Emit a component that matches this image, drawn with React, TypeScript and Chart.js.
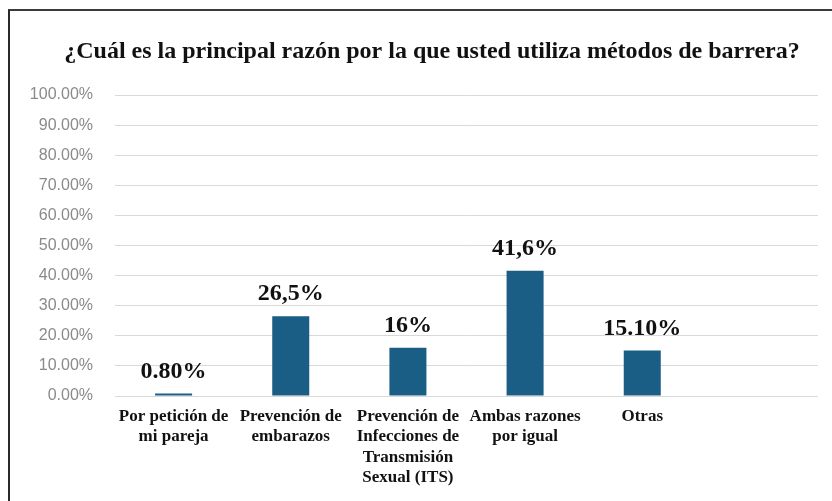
import React, { useEffect, useRef } from "react";
import { Chart, registerables } from "chart.js";

Chart.register(...registerables);

const titleText = "¿Cuál es la principal razón por la que usted utiliza métodos de barrera?";
const categories: string[][] = [
  ["Por petición de", "mi pareja"],
  ["Prevención de", "embarazos"],
  ["Prevención de", "Infecciones de", "Transmisión", "Sexual (ITS)"],
  ["Ambas razones", "por igual"],
  ["Otras"],
  [""],
];
const values: (number | null)[] = [0.8, 26.5, 16, 41.6, 15.1, null];
const valueLabels: string[] = ["0.80%", "26,5%", "16%", "41,6%", "15.10%", ""];
const yTicks = { min: 0, max: 100, step: 10 };

const barColor = "#1b5e85";
const serif = "'Liberation Serif', 'DejaVu Serif', serif";

const titlePlugin = {
  id: "customTitle",
  afterDraw(chart: any) {
    const ctx = chart.ctx;
    ctx.save();
    ctx.font = `bold 24px ${serif}`;
    ctx.fillStyle = "#111";
    ctx.textAlign = "center";
    ctx.textBaseline = "middle";
    ctx.fillText(titleText, 432, 52);
    ctx.restore();
  },
};

const dataLabelPlugin = {
  id: "dataLabels",
  afterDatasetsDraw(chart: any) {
    const ctx = chart.ctx;
    const meta = chart.getDatasetMeta(0);
    ctx.save();
    ctx.font = `bold 24px ${serif}`;
    ctx.fillStyle = "#111";
    ctx.textAlign = "center";
    ctx.textBaseline = "middle";
    meta.data.forEach((bar: any, i: number) => {
      if (values[i] == null) return;
      ctx.fillText(valueLabels[i], bar.x, bar.y - 22);
    });
    ctx.restore();
  },
};

export default function App() {
  const ref = useRef<HTMLCanvasElement | null>(null);
  useEffect(() => {
    if (!ref.current) return;
    const chart = new Chart(ref.current, {
      type: "bar",
      data: {
        labels: categories,
        datasets: [
          {
            data: values,
            backgroundColor: barColor,
            borderWidth: 0,
            categoryPercentage: 1,
            barPercentage: 0.316,
          },
        ],
      },
      options: {
        responsive: false,
        animation: false,
        layout: { padding: { left: 0, right: 14, top: 95, bottom: 0 } },
        plugins: {
          legend: { display: false },
          tooltip: { enabled: false },
          title: { display: false },
        },
        scales: {
          x: {
            grid: { display: false, drawTicks: false },
            border: { display: false },
            ticks: {
              color: "#111",
              padding: 11,
              maxRotation: 0,
              autoSkip: false,
              font: { family: serif, size: 17, weight: "bold", lineHeight: 1.18 },
            },
            afterFit: (s: any) => {
              s.height = 105;
            },
          },
          y: {
            min: yTicks.min,
            max: yTicks.max,
            grid: { color: "#d9d9d9", lineWidth: 1, drawTicks: false },
            border: { display: false },
            ticks: {
              stepSize: yTicks.step,
              padding: 22,
              color: "#8a8a8a",
              font: { family: "'Liberation Sans', Arial, sans-serif", size: 16 },
              callback: (v: any) => Number(v).toFixed(2) + "%",
            },
            afterFit: (s: any) => {
              s.width = 115;
            },
          },
        },
      },
      plugins: [dataLabelPlugin, titlePlugin],
    });
    return () => chart.destroy();
  }, []);

  return (
    <div style={{ position: "fixed", left: 0, top: 0, width: 832, height: 501, background: "#fff", overflow: "hidden" }}>
      <div
        style={{
          position: "absolute",
          left: 8,
          top: 9,
          width: 900,
          height: 600,
          borderLeft: "2px solid #2a2a2a",
          borderTop: "2px solid #3a3a3a",
        }}
      />
      <canvas ref={ref} width={832} height={501} style={{ position: "absolute", left: 0, top: 0 }} />
    </div>
  );
}
